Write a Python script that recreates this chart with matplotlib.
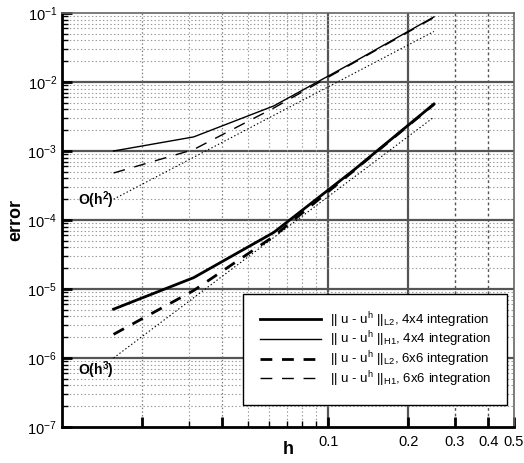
import numpy as np
import matplotlib
matplotlib.use("Agg")
import matplotlib.pyplot as plt
from matplotlib.ticker import FixedLocator, NullFormatter, LogLocator

plt.rcParams['font.family'] = ['Liberation Sans', 'DejaVu Sans']
plt.rcParams['mathtext.fontset'] = 'custom'
plt.rcParams['mathtext.rm'] = 'Liberation Sans'
plt.rcParams['mathtext.it'] = 'Liberation Sans'
plt.rcParams['mathtext.bf'] = 'Liberation Sans:bold'
plt.rcParams['lines.scale_dashes'] = False

# mesh sizes and errors
h = [1/64, 1/32, 1/16, 1/8, 1/4]
err_l2_4x4 = [5.1e-6, 1.46e-5, 6.6e-5, 5.3e-4, 4.8e-3]
err_h1_4x4 = [1.0e-3, 1.6e-3, 4.5e-3, 1.95e-2, 8.8e-2]
err_l2_6x6 = [2.2e-6, 9.5e-6, 5.8e-5, 5.2e-4, 4.75e-3]
err_h1_6x6 = [4.8e-4, 1.05e-3, 4.2e-3, 1.9e-2, 8.6e-2]

# reference slopes
h_ref = [1/64, 1/4]
ref_h2 = [2.0e-4, 5.4e-2]
ref_h3 = [1.0e-6, 3.1e-3]

labels = [r'|| u - u$^\mathrm{h}$ ||$_\mathrm{L2}$, 4x4 integration',
          r'|| u - u$^\mathrm{h}$ ||$_\mathrm{H1}$, 4x4 integration',
          r'|| u - u$^\mathrm{h}$ ||$_\mathrm{L2}$, 6x6 integration',
          r'|| u - u$^\mathrm{h}$ ||$_\mathrm{H1}$, 6x6 integration']

fig = plt.figure(figsize=(5.24, 4.63), dpi=100)
ax = fig.add_axes([0.1183, 0.0778, 0.8627, 0.8941])
ax.set_xscale('log')
ax.set_yscale('log')
ax.set_xlim(0.01, 0.5)
ax.set_ylim(1e-7, 1e-1)

# grid
ax.grid(which='minor', color='#999999', linestyle=':', linewidth=0.8)
for y in [1e-6, 1e-5, 1e-4, 1e-3, 1e-2]:
    ax.axhline(y, color='#555555', lw=1.6, zorder=1)
for x in [0.1, 0.2]:
    ax.axvline(x, color='#555555', lw=1.6, zorder=1)
for x in [0.02, 0.04]:
    ax.axvline(x, color='#777777', lw=0.9, ls=':', zorder=1)
for x in [0.3, 0.4]:
    ax.axvline(x, color='#555555', lw=1.0, ls=(0, (2, 2)), zorder=1)

ax.plot(h, err_l2_4x4, color='black', lw=2.0, label=labels[0], zorder=3)
ax.plot(h, err_h1_4x4, color='black', lw=1.0, label=labels[1], zorder=3)
ax.plot(h, err_l2_6x6, color='black', lw=2.0, dashes=(8.5, 7), label=labels[2], zorder=3)
ax.plot(h, err_h1_6x6, color='black', lw=1.0, dashes=(8.5, 7), label=labels[3], zorder=3)
ax.plot(h_ref, ref_h2, color='black', lw=0.8, ls=':', zorder=3)
ax.plot(h_ref, ref_h3, color='black', lw=0.8, ls=':', zorder=3)

ax.text(0.0156, 1.95e-4, r'O(h$^\mathbf{2}$)', fontsize=10, fontweight='bold',
        ha='right', va='center')
ax.text(0.0156, 6.6e-7, r'O(h$^\mathbf{3}$)', fontsize=10, fontweight='bold',
        ha='right', va='center')

# ticks
ax.xaxis.set_major_locator(FixedLocator([0.02, 0.04, 0.1, 0.2, 0.3, 0.4, 0.5]))
ax.xaxis.set_major_formatter(plt.FuncFormatter(
    lambda v, p: ('%g' % v) if v >= 0.1 else ''))
ax.xaxis.set_minor_locator(LogLocator(base=10, subs=np.arange(2, 10)))
ax.xaxis.set_minor_formatter(NullFormatter())
ax.yaxis.set_major_locator(LogLocator(base=10, numticks=10))
ax.yaxis.set_minor_locator(LogLocator(base=10, subs=np.arange(2, 10), numticks=20))
ax.yaxis.set_minor_formatter(NullFormatter())
ax.tick_params(which='major', direction='in', length=7, width=2, labelsize=10.5,
               top=False, right=False)
ax.tick_params(which='minor', direction='in', length=4, width=1, top=False, right=False)
ax.tick_params(axis='x', pad=6)

for s in ['left', 'bottom']:
    ax.spines[s].set_linewidth(2)
for s in ['top', 'right']:
    ax.spines[s].set_color('#666666')
    ax.spines[s].set_linewidth(1.2)

ax.set_xlabel('h', fontsize=13, fontweight='bold', labelpad=-6)
ax.set_ylabel('error', fontsize=13, fontweight='bold', labelpad=2)

leg = ax.legend(loc='lower right', bbox_to_anchor=(0.985, 0.053), fontsize=9.5,
                handlelength=4.6, handletextpad=0.7, borderpad=1.25,
                labelspacing=0.0, borderaxespad=0, frameon=True,
                fancybox=False, framealpha=1)
leg.get_frame().set_edgecolor('black')
leg.get_frame().set_linewidth(1.0)

fig.savefig('out.png', dpi=100)
